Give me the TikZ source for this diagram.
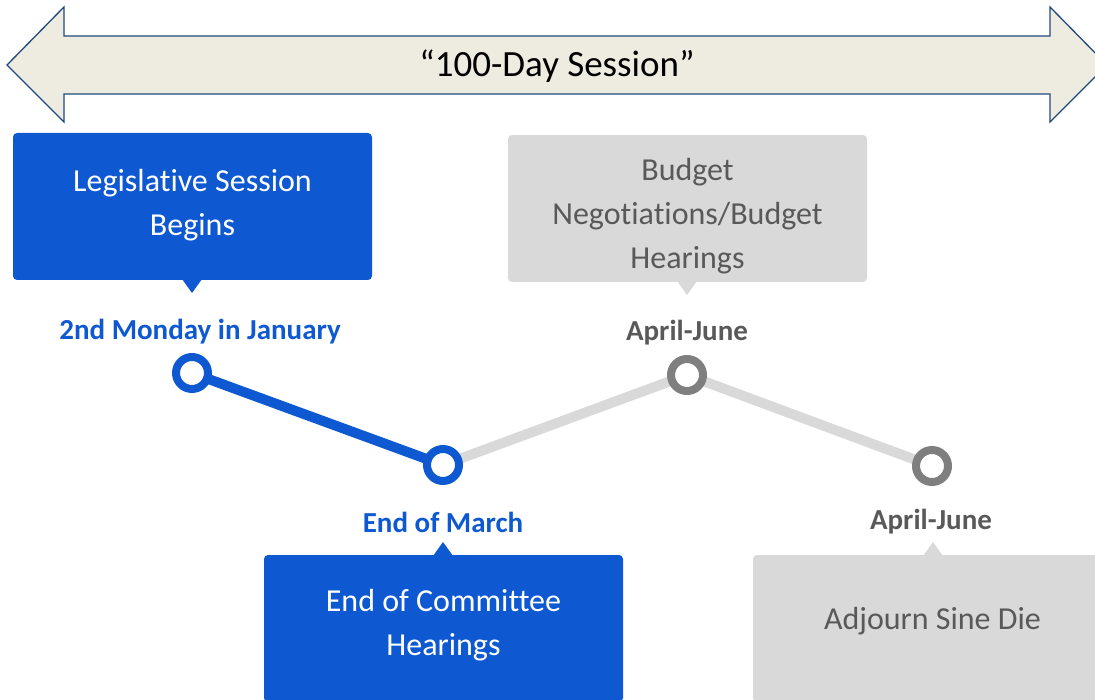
\documentclass[tikz,border=0pt]{standalone}
\usepackage{fontspec}
\setmainfont{Carlito}[Ligatures={NoCommon,NoRare,NoContextual}]
\definecolor{bannerfill}{HTML}{EEECE1}
\definecolor{bannerline}{HTML}{1F497D}
\definecolor{mainblue}{HTML}{0E59D1}
\definecolor{lightgray}{HTML}{D9D9D9}
\definecolor{midgray}{HTML}{7F7F7F}
\definecolor{textgray}{HTML}{595959}
\tikzset{
  boxshape/.style={rounded corners=4pt, minimum width=359pt, minimum height=147pt, inner sep=0pt},
  bluebox/.style={boxshape, fill=mainblue},
  graybox/.style={boxshape, fill=lightgray},
  boxtext/.style={align=center, inner sep=0pt, font=\fontsize{32}{44}\selectfont},
  bluedot/.style={circle, draw=mainblue, line width=8pt, fill=white, minimum size=32pt, inner sep=0pt},
  graydot/.style={circle, draw=midgray, line width=8pt, fill=white, minimum size=32pt, inner sep=0pt},
  datefont/.style={font=\fontsize{29}{32}\selectfont\bfseries},
  bluedate/.style={datefont, text=mainblue},
  graydate/.style={datefont, text=textgray},
}
\begin{document}
\begin{tikzpicture}[x=1pt,y=-1pt]
\useasboundingbox (0,0) rectangle (1095,700);
\clip (0,0) rectangle (1095,700);
% banner double arrow
\filldraw[fill=bannerfill, draw=bannerline, line width=1.3pt, line join=miter]
  (7,65) -- (64,7) -- (64,36) -- (1050,36) -- (1050,7) -- (1107,65) -- (1050,122) -- (1050,94) -- (64,94) -- (64,122) -- cycle;
\node[font=\fontsize{37}{40}\selectfont] (title) at (557,66) {“100-Day Session”};
% callout boxes
\node[bluebox] (b1) at (192.5,206.5) {};
\fill[mainblue] (182,279) -- (192,293) -- (202,279) -- cycle;
\node[boxtext, text=white] (t1) at (192.5,205) {Legislative Session\\Begins};
\node[graybox] (g1) at (687.5,208.5) {};
\fill[lightgray] (677,281) -- (687,295) -- (697,281) -- cycle;
\node[boxtext, text=textgray] (t3) at (687.5,216.5) {Budget\\Negotiations/Budget\\Hearings};
\node[bluebox] (b2) at (443.5,628.5) {};
\fill[mainblue] (433,556) -- (443,542) -- (453,556) -- cycle;
\node[boxtext, text=white] (t2) at (443.5,625.5) {End of Committee\\Hearings};
\node[graybox] (g2) at (932.5,628.5) {};
\fill[lightgray] (923,556) -- (933,542) -- (943,556) -- cycle;
\node[boxtext, text=textgray] (t4) at (932.5,621.5) {Adjourn Sine Die};
% dates
\node[bluedate] (d1) at (200,332) {2nd Monday in January};
\node[graydate] (d3) at (687,333) {April-June};
\node[bluedate] (d2) at (443,522) {End of March};
\node[graydate] (d4) at (931,522) {April-June};
% timeline points
\coordinate (p1) at (192,373);
\coordinate (p2) at (443,465);
\coordinate (p3) at (687,375);
\coordinate (p4) at (932,466);
\draw[mainblue, line width=10pt] (p1) -- (p2);
\draw[lightgray, line width=10pt] (p2) -- (p3);
\draw[lightgray, line width=10pt] (p3) -- (p4);
\node[bluedot] (c1) at (p1) {};
\node[bluedot] (c2) at (p2) {};
\node[graydot] (c3) at (p3) {};
\node[graydot] (c4) at (p4) {};
\end{tikzpicture}
\end{document}
